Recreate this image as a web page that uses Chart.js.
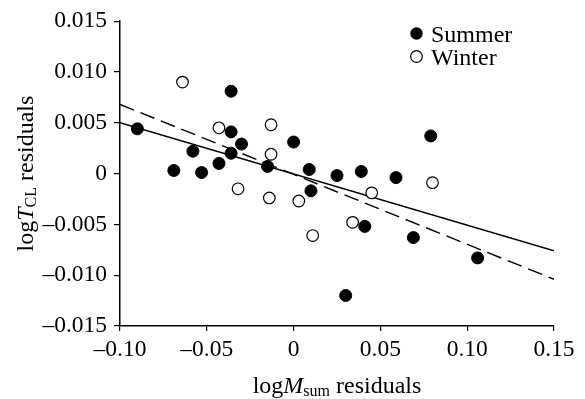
<!DOCTYPE html>
<html>
<head>
<meta charset="utf-8">
<script src="https://cdn.jsdelivr.net/npm/chart.js@4"></script>
<style>
  html, body { margin: 0; padding: 0; background: #fff; }
  #wrap { width: 585px; height: 399px; }
</style>
</head>
<body>
<div id="wrap"><canvas id="chart" width="585" height="399"></canvas></div>
<script>
// -------------------
// DATA
// -------------------
const summerX = [-0.090, -0.069, -0.058, -0.053, -0.043, -0.036, -0.036, -0.036, -0.030, -0.015, 0.000, 0.009, 0.010, 0.025, 0.030, 0.039, 0.041, 0.059, 0.069, 0.079, 0.106];
const summerY = [0.0044, 0.0003, 0.0022, 0.0001, 0.0010, 0.0081, 0.0041, 0.0020, 0.0029, 0.0007, 0.0031, 0.0004, -0.0017, -0.0002, -0.0120, 0.0002, -0.0052, -0.0004, -0.0063, 0.0037, -0.0083];

const winterX = [-0.064, -0.043, -0.032, -0.013, -0.013, -0.014, 0.003, 0.011, 0.034, 0.045, 0.080];
const winterY = [0.0090, 0.0045, -0.0015, 0.0048, 0.0019, -0.0024, -0.0027, -0.0061, -0.0048, -0.0019, -0.0009];

// regression lines (end points at the axis limits)
const fitX = [-0.10, 0.15];
const summerFitY = [0.0050, -0.0076];
const winterFitY = [0.0068, -0.0104];

const seriesNames = ["Summer", "Winter"];

const FONT = "'Liberation Serif', 'Times New Roman', serif";
const toPts = (xs, ys) => xs.map((x, i) => ({ x: x, y: ys[i] }));

// minus sign as en dash like the original
function fmt(v, d) {
  if (Math.abs(v) < 1e-9) return "0";
  return (v < 0 ? "\u2013" : "") + Math.abs(v).toFixed(d);
}

// -------------------
// PLUGIN: axis titles with italics/subscripts + legend
// -------------------
function drawParts(ctx, parts, x, y) {
  parts.forEach(p => {
    ctx.font = p.font;
    ctx.fillText(p.t, x, y + (p.dy || 0));
    x += ctx.measureText(p.t).width;
  });
}
function partsWidth(ctx, parts) {
  let w = 0;
  parts.forEach(p => { ctx.font = p.font; w += ctx.measureText(p.t).width; });
  return w;
}

const extras = {
  id: "extras",
  afterDraw(chart) {
    const ctx = chart.ctx;
    const area = chart.chartArea;
    ctx.save();
    ctx.fillStyle = "#000";
    ctx.textBaseline = "alphabetic";

    const norm = "24px " + FONT;
    const ital = "italic 24px " + FONT;
    const sub = "16px " + FONT;

    // x title
    const xParts = [
      { t: "log", font: norm },
      { t: "M", font: ital },
      { t: "sum", font: sub, dy: 3 },
      { t: " residuals", font: norm }
    ];
    const xw = partsWidth(ctx, xParts);
    drawParts(ctx, xParts, (area.left + area.right) / 2 - xw / 2, 393);

    // y title (rotated)
    const yParts = [
      { t: "log", font: norm },
      { t: "T", font: ital },
      { t: "CL", font: sub, dy: 3 },
      { t: " residuals", font: norm }
    ];
    const yw = partsWidth(ctx, yParts);
    ctx.save();
    ctx.translate(33, (area.top + area.bottom) / 2);
    ctx.rotate(-Math.PI / 2);
    drawParts(ctx, yParts, -yw / 2, 0);
    ctx.restore();

    // legend
    ctx.lineWidth = 1.2;
    ctx.strokeStyle = "#000";
    ctx.beginPath();
    ctx.arc(416.5, 33.5, 6.2, 0, Math.PI * 2);
    ctx.fill();
    ctx.beginPath();
    ctx.arc(416.5, 56.5, 5.8, 0, Math.PI * 2);
    ctx.fillStyle = "#fff";
    ctx.fill();
    ctx.stroke();
    ctx.fillStyle = "#000";
    ctx.font = norm;
    ctx.fillText(seriesNames[0], 431, 41.5);
    ctx.fillText(seriesNames[1], 431, 64.5);

    ctx.restore();
  }
};

// -------------------
// CHART.JS
// -------------------
Chart.defaults.font.family = FONT;
Chart.defaults.font.size = 23.5;
Chart.defaults.color = "#000";

const ctx = document.getElementById("chart").getContext("2d");
const chart = new Chart(ctx, {
  type: "scatter",
  data: {
    datasets: [
      {
        label: seriesNames[0],
        data: toPts(summerX, summerY),
        backgroundColor: "#000",
        borderColor: "#000",
        borderWidth: 1,
        pointRadius: 6,
        order: 1
      },
      {
        label: seriesNames[1],
        data: toPts(winterX, winterY),
        backgroundColor: "#fff",
        borderColor: "#000",
        borderWidth: 1.2,
        pointRadius: 5.8,
        order: 0
      },
      {
        label: "Summer fit",
        data: toPts(fitX, summerFitY),
        showLine: true,
        borderColor: "#000",
        borderWidth: 1.6,
        pointRadius: 0,
        order: 3
      },
      {
        label: "Winter fit",
        data: toPts(fitX, winterFitY),
        showLine: true,
        borderColor: "#000",
        borderWidth: 1.4,
        borderDash: [15, 7],
        pointRadius: 0,
        order: 2
      }
    ]
  },
  options: {
    responsive: false,
    animation: false,
    layout: { padding: { top: 21, right: 31, left: 0, bottom: 0 } },
    plugins: {
      legend: { display: false },
      tooltip: { enabled: false }
    },
    scales: {
      x: {
        type: "linear",
        min: -0.10,
        max: 0.15,
        afterFit: s => { s.height = 73; },
        ticks: {
          stepSize: 0.05,
          padding: 5,
          maxRotation: 0,
          callback: v => fmt(v, 2)
        },
        grid: { drawOnChartArea: false, drawTicks: true, tickLength: 5, color: "#000", lineWidth: 1.2 },
        border: { display: true, color: "#000", width: 1.5 }
      },
      y: {
        type: "linear",
        min: -0.015,
        max: 0.015,
        afterFit: s => { s.width = 120; },
        ticks: {
          stepSize: 0.005,
          padding: 7,
          callback: v => fmt(v, 3)
        },
        grid: { drawOnChartArea: false, drawTicks: true, tickLength: 6, color: "#000", lineWidth: 1.2 },
        border: { display: true, color: "#000", width: 1.5 }
      }
    }
  },
  plugins: [extras]
});
</script>
</body>
</html>
